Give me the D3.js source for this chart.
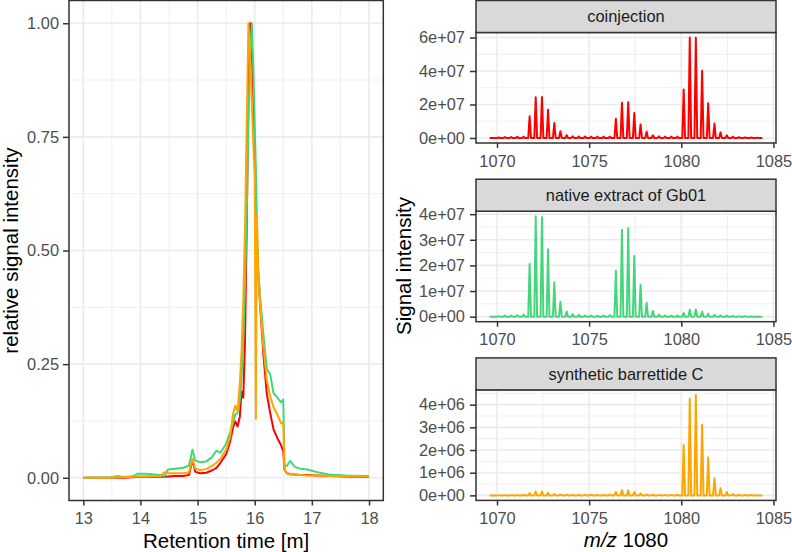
<!DOCTYPE html>
<html><head><meta charset="utf-8">
<script src="https://cdn.jsdelivr.net/npm/d3@7"></script>
<style>
body{margin:0;background:#fff}
svg{display:block}
text{font-family:"Liberation Sans",Arial,Helvetica,sans-serif}
</style>
</head><body>
<svg id="chart" width="792" height="552"></svg>
<script>
// ---------- Chromatogram (left) ----------
const rtTime = [13.00,13.50,13.60,13.70,13.85,13.95,14.10,14.25,14.35,14.42,14.48,14.60,14.75,14.85,14.91,14.96,15.05,15.15,15.25,15.33,15.40,15.50,15.57,15.62,15.66,15.70,15.74,15.77,15.80,15.83,15.86,15.89,15.92,15.95,15.98,16.00,16.02,16.035,16.06,16.10,16.15,16.21,16.27,16.33,16.40,16.46,16.50,16.52,16.56,16.62,16.70,16.80,16.92,17.10,17.30,17.60,18.00];
const rtCoinjection = [0,0,0,0,0.001,0.002,0.002,0.002,0.002,0.002,0.003,0.004,0.004,0.006,0.040,0.013,0.010,0.011,0.016,0.022,0.033,0.052,0.080,0.110,0.124,0.113,0.135,0.190,0.176,0.300,0.550,0.850,1.000,0.930,0.820,0.720,0.620,0.530,0.450,0.370,0.274,0.186,0.143,0.106,0.086,0.072,0.058,0.018,0.010,0.008,0.007,0.006,0.006,0.005,0.004,0.003,0.002];
const rtNative = [0,0.001,0.004,0.002,0.002,0.009,0.009,0.007,0.006,0.004,0.018,0.020,0.022,0.027,0.062,0.038,0.034,0.036,0.045,0.060,0.055,0.075,0.100,0.120,0.139,0.143,0.170,0.220,0.300,0.420,0.580,0.780,0.930,1.000,0.880,0.780,0.680,0.580,0.460,0.390,0.318,0.240,0.228,0.186,0.176,0.166,0.172,0.028,0.026,0.037,0.024,0.020,0.018,0.012,0.007,0.005,0.004];
const rtSynthetic = [0,0,0.001,0.001,0.003,0.003,0.003,0.004,0.004,0.012,0.010,0.010,0.010,0.012,0.042,0.020,0.017,0.019,0.026,0.033,0.042,0.062,0.090,0.140,0.159,0.147,0.210,0.280,0.390,0.550,0.780,1.000,0.930,0.820,0.720,0.660,0.130,0.580,0.457,0.370,0.290,0.215,0.180,0.155,0.138,0.120,0.124,0.018,0.011,0.008,0.007,0.006,0.005,0.005,0.004,0.004,0.003];
const rtTicks = [13,14,15,16,17,18];
const relTicks = [0,0.25,0.5,0.75,1];
const relTickLabels = ["0.00","0.25","0.50","0.75","1.00"];

// ---------- Mass spectra (right) ----------
const mzRange = [1069.6, 1084.4];
const peakMz = [1070.10,1070.43,1070.77,1071.10,1071.44,1071.77,1072.10,1072.44,1072.77,1073.11,1073.44,1073.78,1074.11,1074.44,1074.78,1075.11,1075.45,1075.78,1076.12,1076.45,1076.78,1077.12,1077.45,1077.79,1078.12,1078.46,1078.79,1079.12,1079.46,1079.79,1080.13,1080.46,1080.79,1081.13,1081.46,1081.80,1082.13,1082.47,1082.80,1083.13,1083.47,1083.80,1084.14];
const coinjectionInt = [0.03e7,0.05e7,0.06e7,0.07e7,0.08e7,1.30e7,2.44e7,2.45e7,1.69e7,0.89e7,0.40e7,0.17e7,0.10e7,0.09e7,0.09e7,0.08e7,0.08e7,0.08e7,0.08e7,1.15e7,2.10e7,2.14e7,1.49e7,0.81e7,0.38e7,0.16e7,0.10e7,0.08e7,0.08e7,0.08e7,2.90e7,6.00e7,5.98e7,4.02e7,2.08e7,0.86e7,0.34e7,0.16e7,0.08e7,0.05e7,0.04e7,0.03e7,0.02e7];
const nativeInt = [0.02e7,0.04e7,0.05e7,0.06e7,0.08e7,2.06e7,3.92e7,3.88e7,2.63e7,1.34e7,0.58e7,0.20e7,0.10e7,0.07e7,0.05e7,0.04e7,0.04e7,0.04e7,0.06e7,1.79e7,3.39e7,3.46e7,2.37e7,1.25e7,0.54e7,0.22e7,0.08e7,0.05e7,0.04e7,0.05e7,0.15e7,0.27e7,0.28e7,0.19e7,0.12e7,0.07e7,0.05e7,0.04e7,0.03e7,0.02e7,0.02e7,0.01e7,0.01e7];
const syntheticInt = [0.01e6,0.01e6,0.01e6,0.02e6,0.03e6,0.10e6,0.17e6,0.17e6,0.12e6,0.06e6,0.04e6,0.03e6,0.03e6,0.03e6,0.03e6,0.03e6,0.03e6,0.03e6,0.04e6,0.15e6,0.22e6,0.22e6,0.15e6,0.09e6,0.04e6,0.03e6,0.02e6,0.02e6,0.02e6,0.03e6,2.22e6,4.26e6,4.43e6,3.12e6,1.67e6,0.75e6,0.32e6,0.15e6,0.06e6,0.03e6,0.02e6,0.02e6,0.01e6];
const mzTicks = [1070,1075,1080,1085];
const facetNames = ["coinjection","native extract of Gb01","synthetic barrettide C"];
const facetTicks = [[0,2e7,4e7,6e7],[0,1e7,2e7,3e7,4e7],[0,1e6,2e6,3e6,4e6]];
const facetTickLabels = [["0e+00","2e+07","4e+07","6e+07"],["0e+00","1e+07","2e+07","3e+07","4e+07"],["0e+00","1e+06","2e+06","3e+06","4e+06"]];

const colCoinj = "#FF0000", colNative = "#45D67C", colSynth = "#FFA500";

// ---------- drawing ----------
const svg = d3.select("#chart");
const GRID = "#EBEBEB", BORDER = "#333333", TICKTXT = "#4D4D4D";
const tickFont = 16.4, titleFont = 20.5;

function expand(ext, f){ const d = ext[1]-ext[0]; return [ext[0]-f*d, ext[1]+f*d]; }
function minorOf(ticks, dom){
  const step = ticks[1]-ticks[0];
  const ext = [ticks[0]-step, ...ticks, ticks[ticks.length-1]+step];
  const out = [];
  for(let i=0;i<ext.length-1;i++){ const m=(ext[i]+ext[i+1])/2; if(m>dom[0] && m<dom[1]) out.push(m); }
  return out;
}
let clipId = 0;
function panel(g, x, y, xTicks, yTicks){
  const [x0,x1] = x.range(), [y1,y0] = y.range();
  const xm = minorOf(xTicks, x.domain()), ym = minorOf(yTicks, y.domain());
  g.append("rect").attr("x",x0).attr("y",y0).attr("width",x1-x0).attr("height",y1-y0).attr("fill","#fff");
  const gg = g.append("g");
  gg.selectAll(".xmin").data(xm).join("line").attr("x1",d=>x(d)).attr("x2",d=>x(d)).attr("y1",y0).attr("y2",y1).attr("stroke",GRID).attr("stroke-width",0.8);
  gg.selectAll(".ymin").data(ym).join("line").attr("y1",d=>y(d)).attr("y2",d=>y(d)).attr("x1",x0).attr("x2",x1).attr("stroke",GRID).attr("stroke-width",0.8);
  gg.selectAll(".xmaj").data(xTicks).join("line").attr("x1",d=>x(d)).attr("x2",d=>x(d)).attr("y1",y0).attr("y2",y1).attr("stroke",GRID).attr("stroke-width",1.6);
  gg.selectAll(".ymaj").data(yTicks).join("line").attr("y1",d=>y(d)).attr("y2",d=>y(d)).attr("x1",x0).attr("x2",x1).attr("stroke",GRID).attr("stroke-width",1.6);
  const id = "clip"+(clipId++);
  svg.append("clipPath").attr("id",id).append("rect").attr("x",x0).attr("y",y0).attr("width",x1-x0).attr("height",y1-y0);
  return g.append("g").attr("clip-path",`url(#${id})`);
}
function border(g, x, y){
  const [x0,x1] = x.range(), [y1,y0] = y.range();
  g.append("rect").attr("x",x0).attr("y",y0).attr("width",x1-x0).attr("height",y1-y0).attr("fill","none").attr("stroke",BORDER).attr("stroke-width",1.5);
}
function styleAxis(a){
  a.attr("font-size",null).attr("font-family",null);
  a.select(".domain").remove();
  a.selectAll(".tick line").attr("stroke",BORDER).attr("stroke-width",1.5);
  a.selectAll(".tick text").attr("fill",TICKTXT).style("font-size",tickFont+"px");
}

// Left panel
{
  const x = d3.scaleLinear().domain(expand(d3.extent(rtTime),0.05)).range([69,383.3]);
  const y = d3.scaleLinear().domain(expand([0,1],0.05)).range([500.5,0.5]);
  const g = svg.append("g");
  const pg = panel(g, x, y, rtTicks, relTicks);
  const line = d3.line().x((d,i)=>x(rtTime[i])).y(d=>y(d));
  [[rtCoinjection,colCoinj],[rtNative,colNative],[rtSynthetic,colSynth]].forEach(([vals,c])=>{
    pg.append("path").datum(vals).attr("d",line).attr("fill","none").attr("stroke",c).attr("stroke-width",2).attr("stroke-linejoin","round");
  });
  border(g,x,y);
  const ax = g.append("g").attr("transform","translate(0,500.5)").call(d3.axisBottom(x).tickValues(rtTicks).tickSize(5).tickPadding(7).tickFormat(d3.format("d")));
  styleAxis(ax);
  const ay = g.append("g").attr("transform","translate(69,0)").call(d3.axisLeft(y).tickValues(relTicks).tickSize(6).tickPadding(4).tickFormat((d,i)=>relTickLabels[i]));
  styleAxis(ay);
  g.append("text").attr("x",(69+383.3)/2).attr("y",548).attr("text-anchor","middle").style("font-size",titleFont+"px").attr("fill","#000").text("Retention time [m]");
  g.append("text").attr("transform","translate(18,250.5) rotate(-90)").attr("text-anchor","middle").style("font-size",titleFont+"px").attr("fill","#000").text("relative signal intensity");
}

// Right facets
{
  const series = [coinjectionInt, nativeInt, syntheticInt];
  const colors = [colCoinj, colNative, colSynth];
  const x = d3.scaleLinear().domain(expand(mzRange,0.05)).range([476,776]);
  const pitch = 178.7, stripH = 32, panelH = 110.5, top0 = 0.5;
  const hw = 0.075;
  series.forEach((vals,k)=>{
    const sTop = top0 + k*pitch, pTop = sTop + stripH, pBot = pTop + panelH;
    const y = d3.scaleLinear().domain(expand([0,d3.max(vals)],0.05)).range([pBot,pTop]);
    const g = svg.append("g");
    const pg = panel(g, x, y, mzTicks, facetTicks[k]);
    const pts = [[mzRange[0],0]];
    peakMz.forEach((m,i)=>{ pts.push([m-hw,0],[m,vals[i]],[m+hw,0]); });
    pts.push([mzRange[1],0]);
    pg.append("path").datum(pts).attr("d",d3.line().x(d=>x(d[0])).y(d=>y(d[1])))
      .attr("fill","none").attr("stroke",colors[k]).attr("stroke-width",2).attr("stroke-linejoin","round");
    border(g,x,y);
    g.append("rect").attr("x",476).attr("y",sTop).attr("width",300).attr("height",stripH).attr("fill","#D9D9D9").attr("stroke",BORDER).attr("stroke-width",1.5);
    g.append("text").attr("x",626).attr("y",sTop+stripH/2).attr("dy","0.35em").attr("text-anchor","middle").style("font-size",tickFont+"px").attr("fill","#1A1A1A").text(facetNames[k]);
    const ax = g.append("g").attr("transform",`translate(0,${pBot})`).call(d3.axisBottom(x).tickValues(mzTicks).tickSize(5).tickPadding(7).tickFormat(d3.format("d")));
    styleAxis(ax);
    const ay = g.append("g").attr("transform","translate(476,0)").call(d3.axisLeft(y).tickValues(facetTicks[k]).tickSize(6).tickPadding(5).tickFormat((d,i)=>facetTickLabels[k][i]));
    styleAxis(ay);
  });
  svg.append("text").attr("transform","translate(411,266) rotate(-90)").attr("text-anchor","middle").style("font-size",titleFont+"px").attr("fill","#000").text("Signal intensity");
  const t = svg.append("text").attr("x",626).attr("y",547).attr("text-anchor","middle").style("font-size",titleFont+"px").attr("fill","#000");
  t.append("tspan").attr("font-style","italic").text("m/z");
  t.append("tspan").text(" 1080");
}
</script>
</body></html>
